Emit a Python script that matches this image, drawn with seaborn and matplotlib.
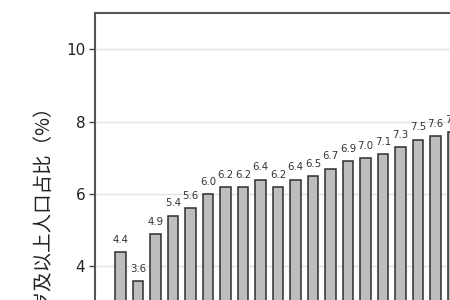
import matplotlib
matplotlib.use("Agg")
import matplotlib.pyplot as plt
import seaborn as sns
import pandas as pd

values = [4.4, 3.6, 4.9, 5.4, 5.6, 6.0, 6.2, 6.2, 6.4, 6.2,
          6.4, 6.5, 6.7, 6.9, 7.0, 7.1, 7.3, 7.5, 7.6, 7.7]
labels = ["4.4", "3.6", "4.9", "5.4", "5.6", "6.0", "6.2", "6.2", "6.4", "6.2",
          "6.4", "6.5", "6.7", "6.9", "7.0", "7.1", "7.3", "7.5", "7.6", "7.7"]
categories = list(range(len(values)))
y_ticks = [4, 6, 8, 10]
y_label = "65岁及以上人口占比（%）"

df = pd.DataFrame({"cat": categories, "val": values})

sns.set_theme(style="white")
plt.rcParams['font.family'] = ['Noto Sans CJK SC', 'DejaVu Sans']

W, H = 450, 300
fig = plt.figure(figsize=(W / 100, H / 100), dpi=100)
fig.patch.set_facecolor("white")

px_unit_y = 36.2
px_unit_x = 17.5
top_px = 13
left_px = 95
ylim = (2, 11)
xlim = (-1.46, 19.6)
ax_h = (ylim[1] - ylim[0]) * px_unit_y
ax_w = (xlim[1] - xlim[0]) * px_unit_x
ax = fig.add_axes([left_px / W, 1 - (top_px + ax_h) / H, ax_w / W, ax_h / H])

sns.barplot(data=df, x="cat", y="val", native_scale=True, width=0.62,
            color="#bdbdbd", saturation=1, edgecolor="#2e2e2e", linewidth=1.1, ax=ax, zorder=3)

for x, v, t in zip(categories, values, labels):
    ax.text(x, v + 0.2, t, ha="center", va="bottom", fontsize=7.3, color="#333333",
            family="DejaVu Sans", zorder=4)

ax.set_xlim(*xlim)
ax.set_ylim(*ylim)
ax.set_yticks(y_ticks)
ax.set_yticklabels([str(t) for t in y_ticks], fontsize=11, color="#222222", family="DejaVu Sans")
ax.set_xticks([])
ax.set_xlabel("")
ax.set_ylabel("")
ax.yaxis.grid(True, color="#e2e2e2", linewidth=1.0, zorder=0)
ax.tick_params(axis="y", length=4, width=1, color="#444444", left=True, pad=3)
for s in ["top", "left"]:
    ax.spines[s].set_color("#555555")
    ax.spines[s].set_linewidth(1.5)
for s in ["right", "bottom"]:
    ax.spines[s].set_visible(False)

fig.text(43 / W, 1 - 96 / H, y_label, rotation=90, ha="center", va="top",
         fontsize=14, color="#222222")

fig.savefig("out.png", dpi=100)
